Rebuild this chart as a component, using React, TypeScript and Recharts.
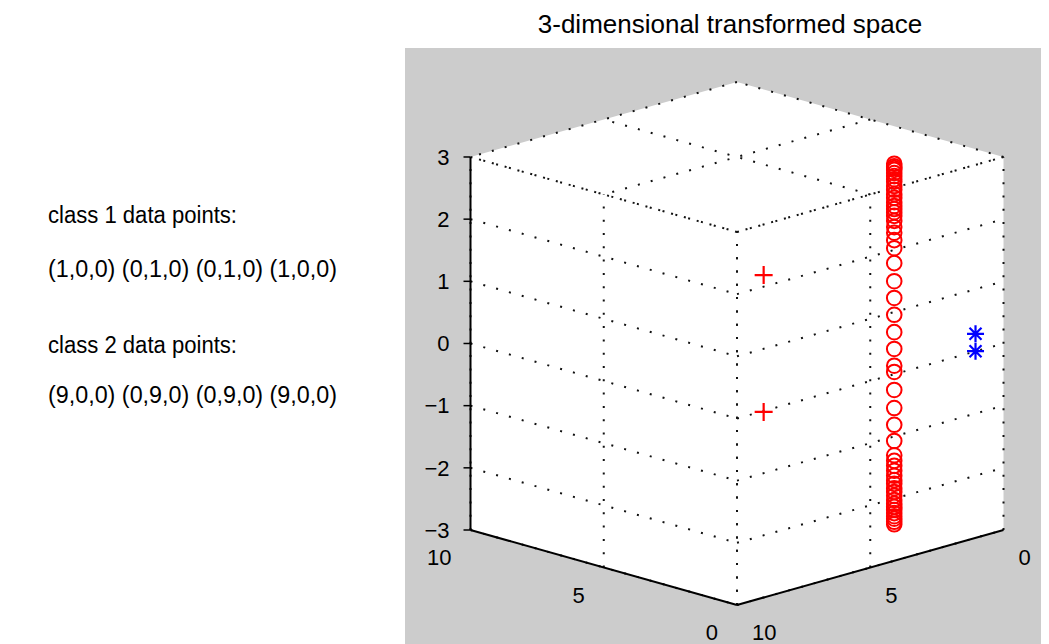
import React from 'react';
import { ComposedChart, XAxis, YAxis, Scatter, Area, ReferenceLine } from 'recharts';

// ---------- data ----------
const aTicks = [0, 5, 10];
const bTicks = [0, 5, 10];
const zTicks = [-3, -2, -1, 0, 1, 2, 3];
const aTickLabels = ['0', '5', '10'];
const bTickLabels = ['0', '5', '10'];
const zTickLabels = ['\u22123', '\u22122', '\u22121', '0', '1', '2', '3'];

// red circles: one column in the transformed space
const circleA = 2.1;
const circleB = 2.0;
const circleZ = [
  2.88, 2.84, 2.81, 2.78, 2.73, 2.68, 2.63, 2.59, 2.52, 2.46, 2.39, 2.33, 2.26, 2.2, 2.15, 2.1,
  2.04, 1.96, 1.86, 1.77, 1.65, 1.52, 1.28, 0.99, 0.72, 0.45, 0.17, -0.1, -0.37, -0.47, -0.76,
  -1.05, -1.32, -1.58, -1.81, -1.9, -1.98, -2.06, -2.14, -2.21, -2.27, -2.34, -2.4, -2.46, -2.53,
  -2.59, -2.64, -2.69, -2.74, -2.79, -2.83, -2.88, -2.92,
];
// red plus markers
const plusA = [4.5, 4.5];
const plusB = [4.5, 4.5];
const plusZ = [1.1, -1.1];
// blue asterisks
const starA = [0.55, 0.55];
const starB = [0.5, 0.5];
const starZ = [0.15, -0.13];

const titleText = '3-dimensional transformed space';
const class1Label = 'class 1 data points:';
const class1Points = '(1,0,0) (0,1,0) (0,1,0) (1,0,0)';
const class2Label = 'class 2 data points:';
const class2Points = '(9,0,0) (0,9,0) (0,9,0) (9,0,0)';

// ---------- view / projection ----------
const A_MAX = 10;
const B_MAX = 10;
const Z_MIN = -3;
const Z_MAX = 3;
const K = 7.5 / 62.17; // depth-to-height ratio of the view

const proj = (a: number, b: number, z: number) => ({
  u: (B_MAX - b) - a,
  v: (z - Z_MIN) + K * (a + B_MAX - b),
});

// chart geometry (container coords = page coords - 8)
const W = 1041;
const H = 636;
const PLOT_LEFT = 462.5;
const PLOT_W = 533;
const Y_AXIS_W = 60;
const V0_Y = 597; // container y of v = 0
const PX_PER_V = 62.17;
const vDomain: [number, number] = [(V0_Y - H) / PX_PER_V, V0_Y / PX_PER_V];

const FONT = '"Liberation Sans", Arial, Helvetica, sans-serif';

// ---------- derived ----------
type Seg = [[number, number, number], [number, number, number]];
const gridSegs: Seg[] = [];
aTicks.forEach((a) => gridSegs.push([[a, B_MAX, Z_MIN], [a, B_MAX, Z_MAX]]));
zTicks.forEach((z) => gridSegs.push([[A_MAX, B_MAX, z], [0, B_MAX, z]]));
bTicks.forEach((b) => gridSegs.push([[0, b, Z_MIN], [0, b, Z_MAX]]));
zTicks.forEach((z) => gridSegs.push([[0, B_MAX, z], [0, 0, z]]));
aTicks.forEach((a) => gridSegs.push([[a, 0, Z_MAX], [a, B_MAX, Z_MAX]]));
bTicks.forEach((b) => gridSegs.push([[0, b, Z_MAX], [A_MAX, b, Z_MAX]]));

const axisSegs: Seg[] = [
  [[A_MAX, B_MAX, Z_MIN], [A_MAX, B_MAX, Z_MAX]],
  [[A_MAX, B_MAX, Z_MIN], [0, B_MAX, Z_MIN]],
  [[0, B_MAX, Z_MIN], [0, 0, Z_MIN]],
];

const hexData = [
  { u: proj(A_MAX, B_MAX, 0).u, range: [proj(A_MAX, B_MAX, Z_MIN).v, proj(A_MAX, B_MAX, Z_MAX).v] },
  { u: 0, range: [proj(0, B_MAX, Z_MIN).v, proj(A_MAX, 0, Z_MAX).v] },
  { u: proj(0, 0, 0).u, range: [proj(0, 0, Z_MIN).v, proj(0, 0, Z_MAX).v] },
];

const circleData = circleZ.map((z) => proj(circleA, circleB, z));
const plusData = plusZ.map((z, i) => proj(plusA[i], plusB[i], z));
const starData = starZ.map((z, i) => proj(starA[i], starB[i], z));

const zTickV = zTicks.map((z) => proj(A_MAX, B_MAX, z).v);
const zFormat = (v: number) => {
  const i = zTickV.findIndex((t) => Math.abs(t - v) < 1e-6);
  return i >= 0 ? zTickLabels[i] : '';
};

const aLabelData = aTicks.map((a, i) => ({ ...proj(a, B_MAX, Z_MIN), label: aTickLabels[i], side: 'a' }));
const bLabelData = bTicks.map((b, i) => ({ ...proj(0, b, Z_MIN), label: bTickLabels[i], side: 'b' }));

// ---------- shapes ----------
const CircleShape = (p: any) => (
  <circle cx={p.cx} cy={p.cy} r={7.3} fill="none" stroke="#ff0000" strokeWidth={2} />
);
const PlusShape = (p: any) => (
  <path
    d={`M${p.cx - 9},${p.cy}H${p.cx + 9}M${p.cx},${p.cy - 9}V${p.cy + 9}`}
    stroke="#ff0000"
    strokeWidth={2.2}
    fill="none"
  />
);
const StarShape = (p: any) => {
  const r = 8.5;
  const d = 6;
  return (
    <path
      d={`M${p.cx - r},${p.cy}H${p.cx + r}M${p.cx},${p.cy - r}V${p.cy + r}M${p.cx - d},${p.cy - d}L${p.cx + d},${p.cy + d}M${p.cx - d},${p.cy + d}L${p.cx + d},${p.cy - d}`}
      stroke="#0000ff"
      strokeWidth={2.2}
      fill="none"
    />
  );
};
const TickLabelShape = (p: any) => {
  const isA = p.payload.side === 'a';
  return (
    <text
      x={p.cx + (isA ? -19 : 15)}
      y={p.cy + 35}
      textAnchor={isA ? 'end' : 'start'}
      fontSize={22}
      fontFamily={FONT}
      fill="#000"
    >
      {p.payload.label}
    </text>
  );
};

const segProps = (s: Seg) => {
  const p1 = proj(s[0][0], s[0][1], s[0][2]);
  const p2 = proj(s[1][0], s[1][1], s[1][2]);
  return [
    { x: p1.u, y: p1.v },
    { x: p2.u, y: p2.v },
  ];
};

export default function App() {
  return (
    <div style={{ position: 'relative', width: W, height: H }}>
      <div style={{ position: 'absolute', left: 397, top: 40, width: 644, height: 596, background: '#cccccc' }} />
      <div style={{ position: 'absolute', left: 0, top: 0 }}>
        <ComposedChart
          width={W}
          height={H}
          margin={{ top: 0, bottom: 0, left: PLOT_LEFT - Y_AXIS_W, right: W - PLOT_LEFT - PLOT_W }}
        >
          <XAxis type="number" dataKey="u" domain={[-10, 10]} hide />
          <YAxis
            type="number"
            dataKey="v"
            domain={vDomain}
            width={Y_AXIS_W}
            ticks={zTickV}
            interval={0}
            tickFormatter={zFormat}
            axisLine={false}
            tickLine={{ stroke: '#000', strokeWidth: 1.5 }}
            tickSize={7}
            tickMargin={14}
            tick={{ fill: '#000', fontSize: 22, fontFamily: FONT }}
          />
          <Area
            data={hexData}
            dataKey="range"
            type="linear"
            stroke="none"
            fill="#ffffff"
            fillOpacity={1}
            dot={false}
            activeDot={false}
            isAnimationActive={false}
          />
          {gridSegs.map((s, i) => (
            <ReferenceLine
              key={'g' + i}
              segment={segProps(s)}
              ifOverflow="visible"
              stroke="#111"
              strokeWidth={2}
              strokeDasharray="2 11.3"
            />
          ))}
          {axisSegs.map((s, i) => (
            <ReferenceLine key={'a' + i} segment={segProps(s)} ifOverflow="visible" stroke="#000" strokeWidth={2} />
          ))}
          <Scatter data={aLabelData} shape={TickLabelShape} isAnimationActive={false} />
          <Scatter data={bLabelData} shape={TickLabelShape} isAnimationActive={false} />
          <Scatter data={circleData} shape={CircleShape} isAnimationActive={false} />
          <Scatter data={plusData} shape={PlusShape} isAnimationActive={false} />
          <Scatter data={starData} shape={StarShape} isAnimationActive={false} />
        </ComposedChart>
      </div>
      <svg width={W} height={H} style={{ position: 'absolute', left: 0, top: 0, pointerEvents: 'none' }}>
        <text x={722} y={25} textAnchor="middle" fontSize={26} fontFamily={FONT} fill="#000">
          {titleText}
        </text>
        <text x={40} y={215} fontSize={23} fontFamily={FONT} fill="#000" textLength={189} lengthAdjust="spacingAndGlyphs">
          {class1Label}
        </text>
        <text x={40} y={269} fontSize={23} fontFamily={FONT} fill="#000" textLength={289} lengthAdjust="spacingAndGlyphs">
          {class1Points}
        </text>
        <text x={40} y={345} fontSize={23} fontFamily={FONT} fill="#000" textLength={189} lengthAdjust="spacingAndGlyphs">
          {class2Label}
        </text>
        <text x={40} y={395} fontSize={23} fontFamily={FONT} fill="#000" textLength={289} lengthAdjust="spacingAndGlyphs">
          {class2Points}
        </text>
      </svg>
    </div>
  );
}
